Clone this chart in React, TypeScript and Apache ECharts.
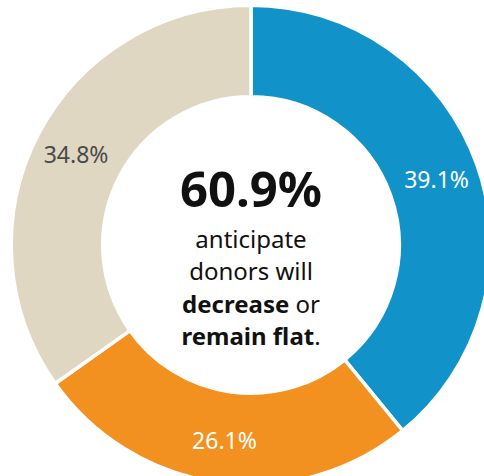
import React, { useEffect, useRef } from "react";
import * as echarts from "echarts";

const categories = ["Increase", "Decrease", "Remain flat"];
const values = [39.1, 26.1, 34.8];
const colors = ["#1192C9", "#F2911F", "#DFD7C1"];
const labelColors = ["#FFFFFF", "#FFFFFF", "#4A4A4A"];
const headline = "60.9%";
const bodyLines = [
  "{n|anticipate}",
  "{n|donors will}",
  "{b|decrease}{n| or}",
  "{b|remain flat}{n|.}",
];

const FONT = "'Noto Sans', 'Open Sans', sans-serif";

export default function App() {
  const ref = useRef<HTMLDivElement>(null);
  useEffect(() => {
    if (!ref.current) return;
    const chart = echarts.init(ref.current, null, { renderer: "svg" });
    const cx = 251;
    const cy = 245;
    const rich = {
      n: { fontFamily: FONT, fontSize: 24, fontWeight: "normal", fill: "#111", color: "#111" },
      b: { fontFamily: FONT, fontSize: 24, fontWeight: "bold", fill: "#111", color: "#111" },
    };
    const baselines = [246, 278, 311, 343];
    chart.setOption({
      animation: false,
      backgroundColor: "#ffffff",
      series: [
        {
          type: "pie",
          center: [cx, cy],
          radius: [148.25, 239.75],
          startAngle: 90,
          clockwise: true,
          avoidLabelOverlap: false,
          silent: true,
          itemStyle: { borderColor: "#ffffff", borderWidth: 3.5 },
          label: {
            show: true,
            position: "inside",
            fontFamily: FONT,
            fontSize: 23,
            formatter: (p: any) => p.value.toFixed(1) + "%",
          },
          labelLine: { show: false },
          data: categories.map((c, i) => ({
            name: c,
            value: values[i],
            itemStyle: { color: colors[i] },
            label: { color: labelColors[i] },
          })),
        },
      ],
      graphic: [
        {
          type: "text",
          x: cx,
          y: 188,
          style: {
            text: headline,
            font: `bold 49px ${FONT}`,
            fill: "#111",
            align: "center",
            verticalAlign: "middle",
          },
        },
        ...bodyLines.map((t, i) => ({
          type: "text",
          x: cx,
          y: baselines[i] - 8,
          style: {
            text: t,
            rich,
            font: `24px ${FONT}`,
            fill: "#111",
            align: "center",
            verticalAlign: "middle",
          },
        })),
      ],
    });
    return () => chart.dispose();
  }, []);
  return (
    <div
      ref={ref}
      style={{ position: "fixed", left: 0, top: 0, width: 484, height: 476 }}
    />
  );
}
